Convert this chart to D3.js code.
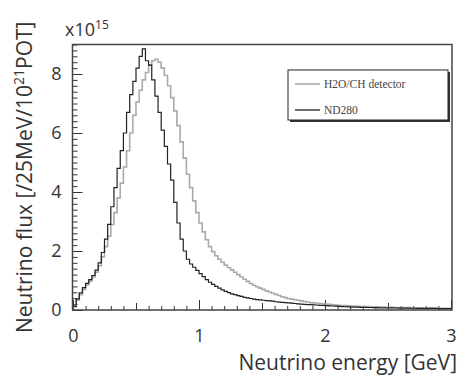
<!DOCTYPE html>
<html lang="en">
<head>
<meta charset="UTF-8">
<title>Neutrino flux</title>
<script src="https://d3js.org/d3.v7.min.js"></script>
<style>
    body { margin: 0; background: #fff; }
    svg { display: block; }
    .tick text { font-family: "Open Sans", sans-serif; font-size: 18px; fill: #333; }
    .axis path, .axis line { stroke: #333; }
    .title { font-family: "Open Sans", sans-serif; font-size: 21px; fill: #333; }
    .expo { font-family: "Open Sans", sans-serif; font-size: 18px; fill: #333; }
    .leg { font-family: "Liberation Serif", serif; font-size: 11.5px; fill: #444; }
</style>
</head>
<body>
<svg id="chart" width="464" height="376"></svg>
<script>
// 25 MeV bins from 0 to 3 GeV (lower edges)
const binLow = d3.range(120).map(i => i * 0.025);

// H2O/CH detector flux per bin (x10^15)
const h2oFlux = [
    0.1, 0.33, 0.52, 0.7, 0.85, 0.98, 1.12, 1.28, 1.5, 1.8,
    2.15, 2.5, 2.9, 3.3, 3.8, 4.3, 4.85, 5.4, 6.0, 6.6,
    7.05, 7.45, 7.8, 8.05, 8.3, 8.45, 8.5, 8.4, 8.2, 7.95,
    7.6, 7.2, 6.75, 6.25, 5.7, 5.15, 4.6, 4.15, 3.7, 3.3,
    2.95, 2.65, 2.38, 2.15, 1.98, 1.84, 1.72, 1.62, 1.52, 1.44,
    1.36, 1.28, 1.2, 1.12, 1.04, 0.97, 0.9, 0.84, 0.79, 0.74,
    0.7, 0.65, 0.61, 0.57, 0.53, 0.49, 0.45, 0.42, 0.39, 0.37,
    0.35, 0.33, 0.31, 0.29, 0.27, 0.25, 0.24, 0.23, 0.22, 0.21,
    0.2, 0.19, 0.18, 0.17, 0.16, 0.155, 0.15, 0.14, 0.135, 0.13,
    0.125, 0.12, 0.12, 0.115, 0.11, 0.11, 0.105, 0.1, 0.1, 0.095,
    0.09, 0.09, 0.085, 0.085, 0.08, 0.08, 0.08, 0.075, 0.075, 0.07,
    0.07, 0.07, 0.065, 0.065, 0.065, 0.06, 0.06, 0.06, 0.055, 0.055
];

// ND280 flux per bin (x10^15)
const nd280Flux = [
    0.12, 0.38, 0.58, 0.76, 0.9, 1.03, 1.17, 1.35, 1.6, 1.95,
    2.4, 2.9, 3.5, 4.15, 4.8, 5.4, 6.0, 6.7, 7.3, 7.75,
    8.2, 8.6, 8.85, 8.45, 8.3, 7.8, 7.25, 6.7, 6.1, 5.55,
    4.95, 4.4, 3.65, 2.95, 2.4, 2.0, 1.72, 1.56, 1.45, 1.34,
    1.23, 1.13, 1.03, 0.94, 0.87, 0.8, 0.74, 0.68, 0.63, 0.59,
    0.55, 0.52, 0.49, 0.46, 0.43, 0.41, 0.39, 0.37, 0.35, 0.34,
    0.33, 0.32, 0.31, 0.3, 0.28, 0.27, 0.26, 0.25, 0.24, 0.23,
    0.22, 0.21, 0.2, 0.19, 0.185, 0.18, 0.175, 0.17, 0.16, 0.155,
    0.15, 0.14, 0.135, 0.13, 0.12, 0.115, 0.11, 0.105, 0.1, 0.1,
    0.095, 0.09, 0.09, 0.085, 0.085, 0.08, 0.08, 0.075, 0.075, 0.07,
    0.07, 0.07, 0.068, 0.066, 0.065, 0.064, 0.062, 0.06, 0.06, 0.058,
    0.057, 0.056, 0.055, 0.054, 0.053, 0.052, 0.05, 0.05, 0.05, 0.05
];

const xTicks = [0, 1, 2, 3];
const yTicks = [0, 2, 4, 6, 8];
const legendNames = ["H2O/CH detector", "ND280"];
const seriesColors = ["#aaaaaa", "#222222"];

const frameL = 72.5, frameR = 452, frameT = 44.5, frameB = 310;
const svg = d3.select("#chart");

const x = d3.scaleLinear().domain([0, 3]).range([73, 451]);
const y = d3.scaleLinear().domain([0, 9]).range([frameB, frameT]);

// minor ticks (inward)
svg.append("g").attr("class", "axis")
    .attr("transform", `translate(0,${frameB})`)
    .call(d3.axisBottom(x).tickValues(d3.range(0, 3.001, 0.1)).tickSize(-4).tickFormat(""))
    .call(g => g.select(".domain").remove());
svg.append("g").attr("class", "axis")
    .attr("transform", `translate(0,${frameB})`)
    .call(d3.axisBottom(x).tickValues([0.5, 1.5, 2.5]).tickSize(-7).tickFormat(""))
    .call(g => g.select(".domain").remove());
svg.append("g").attr("class", "axis")
    .attr("transform", `translate(${frameL},0)`)
    .call(d3.axisLeft(y).tickValues(d3.range(0, 9.001, 0.2)).tickSize(-5).tickFormat(""))
    .call(g => g.select(".domain").remove());

// major ticks with labels
svg.append("g").attr("class", "axis")
    .attr("transform", `translate(0,${frameB})`)
    .call(d3.axisBottom(x).tickValues(xTicks).tickSize(-10).tickPadding(19).tickFormat(d3.format("d")))
    .call(g => g.select(".domain").remove());
svg.append("g").attr("class", "axis")
    .attr("transform", `translate(${frameL},0)`)
    .call(d3.axisLeft(y).tickValues(yTicks).tickSize(-10).tickPadding(11).tickFormat(d3.format("d")))
    .call(g => g.select(".domain").remove());

svg.selectAll(".axis line").attr("stroke-width", 1);

// histograms
const step = d3.line().curve(d3.curveStepAfter).x(d => x(d[0])).y(d => y(d[1]));
function hist(vals) {
    const pts = binLow.map((b, i) => [b, vals[i]]);
    pts.push([3, vals[vals.length - 1]]);
    return pts;
}
[h2oFlux, nd280Flux].forEach((vals, i) => {
    svg.append("path")
        .attr("d", step(hist(vals)))
        .attr("fill", "none")
        .attr("stroke", seriesColors[i])
        .attr("stroke-width", i === 0 ? 1.6 : 1.2);
});

// frame
svg.append("path")
    .attr("d", `M${frameL},${frameB}H${frameR}V${frameT}H${frameL}V${frameB}`)
    .attr("fill", "none").attr("stroke", "#444").attr("stroke-width", 1.5);

// legend
const lg = svg.append("g");
lg.append("rect").attr("x", 290).attr("y", 72).attr("width", 160).attr("height", 50).attr("fill", "#333");
lg.append("rect").attr("x", 288).attr("y", 70).attr("width", 160).attr("height", 50)
    .attr("fill", "#fff").attr("stroke", "#222").attr("stroke-width", 1);
legendNames.forEach((name, i) => {
    const ly = 84 + i * 26;
    lg.append("line").attr("x1", 295).attr("x2", 320).attr("y1", ly).attr("y2", ly)
        .attr("stroke", seriesColors[i]).attr("stroke-width", i === 0 ? 1.6 : 1.3);
    lg.append("text").attr("class", "leg").attr("x", 324).attr("y", ly + 4).text(name);
});

// exponent label
const ex = svg.append("text").attr("class", "expo").attr("x", 65).attr("y", 36);
ex.append("tspan").text("x10");
ex.append("tspan").attr("dy", -7).attr("font-size", 12).text("15");

// axis titles
svg.append("text").attr("class", "title")
    .attr("x", 457).attr("y", 370).attr("text-anchor", "end")
    .text("Neutrino energy [GeV]");

const yt = svg.append("text").attr("class", "title")
    .attr("transform", "translate(32,333) rotate(-90)");
yt.append("tspan").text("Neutrino flux [/25MeV/10");
yt.append("tspan").attr("dy", -8).attr("font-size", 14).text("21");
yt.append("tspan").attr("dy", 8).text("POT]");
</script>
</body>
</html>
